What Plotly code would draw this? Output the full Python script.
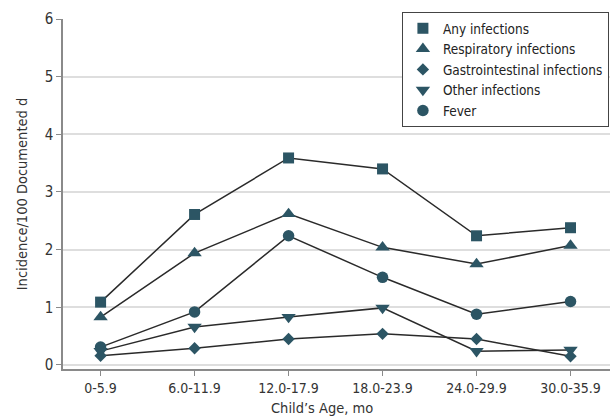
import plotly.graph_objects as go

# Age groups (months) and incidence per 100 documented days
age_groups = ["0-5.9", "6.0-11.9", "12.0-17.9", "18.0-23.9", "24.0-29.9", "30.0-35.9"]

any_infections = [1.09, 2.61, 3.59, 3.40, 2.24, 2.38]
respiratory_infections = [0.83, 1.94, 2.62, 2.04, 1.75, 2.07]
gastrointestinal_infections = [0.16, 0.29, 0.45, 0.54, 0.45, 0.15]
other_infections = [0.24, 0.66, 0.83, 0.99, 0.24, 0.26]
fever = [0.31, 0.92, 2.24, 1.52, 0.88, 1.10]

series = [
    ("Any infections", any_infections, "square", 11),
    ("Respiratory infections", respiratory_infections, "triangle-up", 12.5),
    ("Gastrointestinal infections", gastrointestinal_infections, "diamond", 9.5),
    ("Other infections", other_infections, "triangle-down", 12.5),
    ("Fever", fever, "circle", 11.5),
]

MARKER = "#2c5564"
LINE = "#2a2a2a"
FONT = "DejaVu Sans Condensed, Roboto, sans-serif"

fig = go.Figure()

# connecting lines first, so the markers sit on top
for name, vals, sym, size in series:
    fig.add_trace(go.Scatter(
        x=age_groups, y=vals, mode="lines", showlegend=False, hoverinfo="skip",
        line=dict(color=LINE, width=1.5),
    ))

# markers, which also carry the legend entries
for name, vals, sym, size in series:
    fig.add_trace(go.Scatter(
        x=age_groups, y=vals, name=name, mode="markers",
        marker=dict(symbol=sym, size=size, color=MARKER, line=dict(width=0)),
    ))

fig.update_layout(
    width=610, height=420,
    margin=dict(l=63, r=0, t=19, b=51),
    paper_bgcolor="white", plot_bgcolor="white",
    font=dict(family=FONT, size=14, color="#333333"),
    showlegend=True,
    legend=dict(
        x=0.998, y=1.02, xanchor="right", yanchor="top",
        bordercolor="#444444", borderwidth=1, bgcolor="white",
        font=dict(size=13.5, color="#222222"),
        tracegroupgap=0, itemsizing="trace",
    ),
    xaxis=dict(
        type="category", range=[-0.4, 5.42],
        showgrid=False, zeroline=False,
        showline=True, linecolor="#8a8a8a", linewidth=1.5,
        ticks="outside", ticklen=5, tickcolor="#8a8a8a", tickwidth=1,
        tickfont=dict(size=14),
    ),
    yaxis=dict(
        range=[-0.07, 6], dtick=1,
        showgrid=True, gridcolor="#dedede", gridwidth=1.5,
        zeroline=False,
        showline=True, linecolor="#8a8a8a", linewidth=1.5,
        ticks="outside", ticklen=5, tickcolor="#8a8a8a", tickwidth=1,
        title=dict(text="Incidence/100 Documented d", standoff=14, font=dict(size=14.5)),
        tickfont=dict(size=15),
    ),
    annotations=[dict(
        text="Child\u2019s Age, mo", xref="paper", yref="paper",
        x=0.4735, y=-0.111, xanchor="center", yanchor="middle",
        showarrow=False, font=dict(size=14.5, color="#333333"),
    )],
)

fig.write_html("out.html")
